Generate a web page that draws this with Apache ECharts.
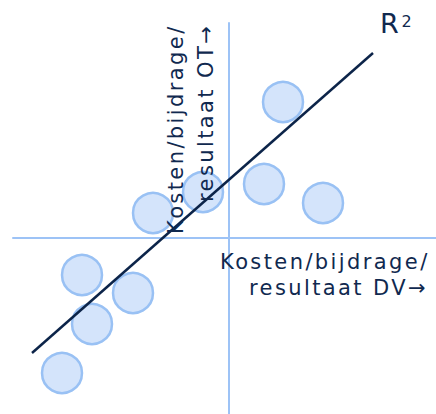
<!DOCTYPE html>
<html>
<head>
<meta charset="utf-8">
<script src="https://cdn.jsdelivr.net/npm/echarts@6/dist/echarts.min.js"></script>
<style>
  html, body { margin: 0; padding: 0; background: #ffffff; }
  #chart { width: 436px; height: 414px; }
  #chart svg text { letter-spacing: 2.4px; }
</style>
</head>
<body>
<div id="chart"></div>
<script>
// Bubble positions (abstract units, axes cross at 0,0)
var pointX = [2.7, 1.75, 4.7, -1.3, -3.8, -7.35, -4.8, -6.85, -8.35];
var pointY = [6.8, 2.7, 1.75, 2.3, 1.25, -1.85, -2.75, -4.3, -6.75];
// Regression line end points
var lineX = [-9.85, 7.2];
var lineY = [-5.75, 9.25];
// Axis label texts
var xLabelLines = ['Kosten/bijdrage/', 'resultaat DV\u2192'];
var yLabelLines = ['Kosten/bijdrage/', 'resultaat OT\u2192'];
var r2Label = ['R', '2'];

var chart = echarts.init(document.getElementById('chart'), null, { renderer: 'svg' });

var font = '"DejaVu Sans", Verdana, sans-serif';
var txtColor = '#10294f';

function txt(s, x, y, size, rot) {
  return {
    type: 'text', x: x, y: y, rotation: rot || 0, z: 100,
    style: {
      text: s, fontSize: size, fontFamily: font, fill: txtColor,
      align: 'left', verticalAlign: 'middle',
      textAlign: 'left', textVerticalAlign: 'middle'
    }
  };
}

chart.setOption({
  animation: false,
  grid: { left: 13, right: 0, top: 23, bottom: 0 },
  xAxis: {
    type: 'value', min: -10.8, max: 10.35,
    axisLine: { onZero: true, lineStyle: { color: '#9dc3f6', width: 2 } },
    axisTick: { show: false }, axisLabel: { show: false }, splitLine: { show: false }
  },
  yAxis: {
    type: 'value', min: -8.8, max: 10.75,
    axisLine: { onZero: true, lineStyle: { color: '#9dc3f6', width: 2 } },
    axisTick: { show: false }, axisLabel: { show: false }, splitLine: { show: false }
  },
  series: [
    {
      type: 'scatter', z: 2,
      symbol: 'circle', symbolSize: 40,
      itemStyle: { color: '#d4e4fb', borderColor: '#99c1f4', borderWidth: 2.5, opacity: 1 },
      data: pointX.map(function (x, i) { return [x, pointY[i]]; })
    },
    {
      type: 'line', z: 3, showSymbol: false, symbol: 'none',
      lineStyle: { color: '#0c2449', width: 2.5 },
      data: lineX.map(function (x, i) { return [x, lineY[i]]; })
    }
  ],
  graphic: [
    txt(xLabelLines[0], 220, 262, 21),
    txt(xLabelLines[1], 249, 288, 21),
    txt(yLabelLines[0], 176, 234, 21, Math.PI / 2),
    txt(yLabelLines[1], 206, 202, 21, Math.PI / 2),
    txt(r2Label[0], 380, 23.5, 27),
    txt(r2Label[1], 401.5, 21.5, 16)
  ]
});
</script>
</body>
</html>
